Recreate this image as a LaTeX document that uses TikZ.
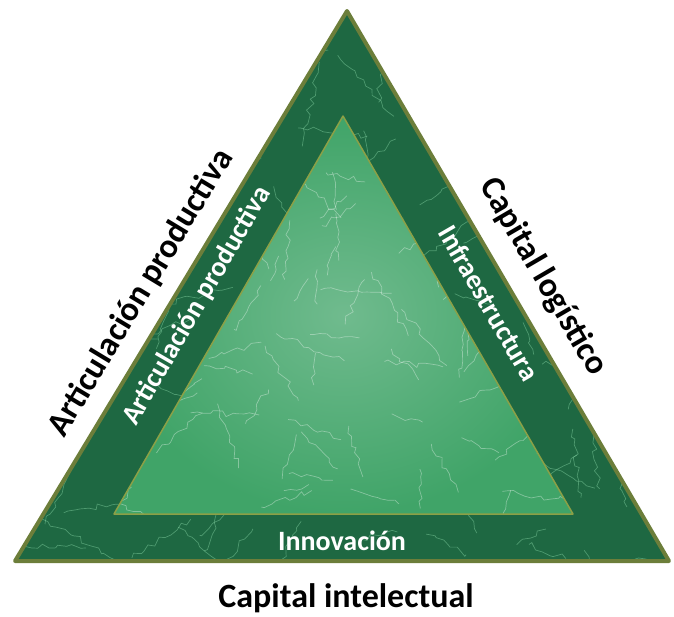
\documentclass[tikz,border=0pt]{standalone}
\usepackage{fontspec}
\setmainfont{Carlito}
\usetikzlibrary{decorations.pathmorphing}
\definecolor{olive}{RGB}{108,126,58}
\definecolor{innerline}{RGB}{140,160,70}
\definecolor{darkmarble}{RGB}{30,104,66}
\definecolor{lightmarble}{RGB}{64,164,104}
\definecolor{vein}{RGB}{150,230,180}
\tikzset{
  outerlabel/.style={font=\bfseries\fontsize{34}{34}\selectfont, text=black, inner sep=0pt},
  innerlabel/.style={font=\bfseries\fontsize{28}{28}\selectfont, text=white, inner sep=0pt},
  veinline/.style={draw=vein, line width=0.7pt, opacity=0.4,
    decorate, decoration={random steps, segment length=6pt, amplitude=3pt}}
}
\begin{document}
\begin{tikzpicture}[x=1pt,y=-1pt]
\useasboundingbox (0,0) rectangle (674,616);
\pgfmathsetseed{7}
% outer triangle corners
\coordinate (A) at (347,11);
\coordinate (B) at (15,561);
\coordinate (C) at (669,561);
% inner triangle corners
\coordinate (a) at (343,116);
\coordinate (b) at (114,514);
\coordinate (c) at (573,514);
% outer band
\fill[darkmarble] (A) -- (B) -- (C) -- cycle;
\begin{scope}
  \clip (A) -- (B) -- (C) -- cycle;
  \foreach \i in {1,...,110} {
    \pgfmathsetmacro{\xa}{15+rnd*654}
    \pgfmathsetmacro{\ya}{11+rnd*550}
    \pgfmathsetmacro{\ang}{rnd*360}
    \pgfmathsetmacro{\len}{30+rnd*60}
    \draw[veinline] (\xa,\ya) -- ++(\ang:\len);
  }
\end{scope}
% inner triangle
\shade[inner color=lightmarble!75!white, outer color=lightmarble] (a) -- (b) -- (c) -- cycle;
\begin{scope}
  \clip (a) -- (b) -- (c) -- cycle;
  \foreach \i in {1,...,90} {
    \pgfmathsetmacro{\xa}{114+rnd*459}
    \pgfmathsetmacro{\ya}{116+rnd*398}
    \pgfmathsetmacro{\ang}{rnd*360}
    \pgfmathsetmacro{\len}{25+rnd*50}
    \draw[veinline, draw=white, opacity=0.35] (\xa,\ya) -- ++(\ang:\len);
  }
\end{scope}
\draw[innerline, line width=1.5pt, line join=round] (a) -- (b) -- (c) -- cycle;
\draw[olive, line width=4pt, line join=round] (A) -- (B) -- (C) -- cycle;
% labels
\node[outerlabel, rotate=58.9] (lo) at (141,293) {Articulación productiva};
\node[outerlabel, rotate=-59.7] (ro) at (543,277) {Capital logístico};
\node[outerlabel] (bo) at (346,598) {Capital intelectual};
\node[innerlabel, rotate=60] (li) at (197,306) {Articulación productiva};
\node[innerlabel, rotate=-60] (ri) at (489,303) {Infraestructura};
\node[innerlabel] (bi) at (342,541) {Innovación};
\end{tikzpicture}
\end{document}
